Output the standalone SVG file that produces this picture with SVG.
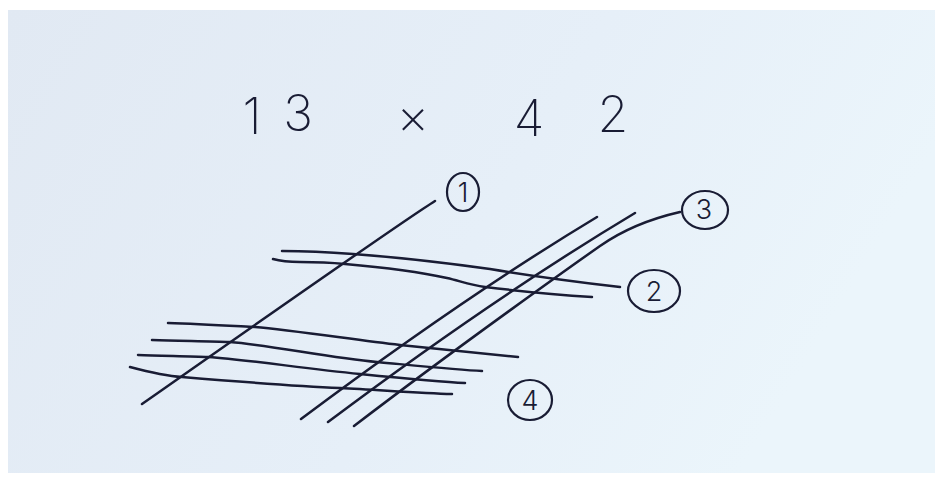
<svg xmlns="http://www.w3.org/2000/svg" width="935" height="487" viewBox="0 0 935 487">
  <defs>
    <linearGradient id="paper" x1="0" y1="0" x2="1" y2="0.3">
      <stop offset="0" stop-color="#e1e9f3"/>
      <stop offset="0.6" stop-color="#e6eff8"/>
      <stop offset="1" stop-color="#ebf5fb"/>
    </linearGradient>
    <style>
      .ink { fill: none; stroke: #191c34; stroke-width: 2.5; stroke-linecap: round; stroke-linejoin: round; }
      .ring { fill: none; stroke: #191c34; stroke-width: 2.2; }
      .title { font-family: Inter, "Open Sans", "DejaVu Sans", sans-serif; font-weight: 200; font-size: 50px; fill: #191c34; text-anchor: middle; }
      .num { font-family: Inter, "Open Sans", "DejaVu Sans", sans-serif; font-weight: 300; font-size: 27px; fill: #191c34; text-anchor: middle; }
    </style>
  </defs>

  <rect x="0" y="0" width="935" height="487" fill="#ffffff"/>
  <rect x="8" y="10" width="927" height="463" fill="url(#paper)"/>

  <g id="title">
    <text class="title" x="252" y="134">1</text>
    <text class="title" x="298" y="131">3</text>
    <text class="title" x="413" y="134">×</text>
    <text class="title" x="529" y="136">4</text>
    <text class="title" x="613" y="132">2</text>
  </g>

  <g id="connectors">
    <g id="lines-1">
      <path class="ink" d="M435,201 Q400,223 142,404"/>
    </g>
    <g id="lines-2">
      <path class="ink" d="M282,251 C310,251 340,253 353,254 C380,256 440,262 490,269 C520,274 560,280 620,287"/>
      <path class="ink" d="M273,259 C280,261 290,262 300,262 C320,262 335,263 345,264 C380,267 420,272 447,278 C460,281 470,285 485,287 C510,290 560,295 592,297"/>
    </g>
    <g id="lines-3">
      <path class="ink" d="M597,217 Q464,297 301,419"/>
      <path class="ink" d="M635,213 Q493,298 328,422"/>
      <path class="ink" d="M680,212 C645,220 620,232 600,246 S460,345 354,426"/>
    </g>
    <g id="lines-4">
      <path class="ink" d="M168,323 C200,324 235,326 255,327 C290,330 350,339 400,345 C440,349 480,353 518,357"/>
      <path class="ink" d="M152,340 C180,341 210,341 230,342 C270,345 330,358 377,362 C420,366 460,370 482,371"/>
      <path class="ink" d="M138,355 C160,356 190,356 208,357 C250,360 300,368 360,374 C400,378 440,382 465,383"/>
      <path class="ink" d="M130,367 C145,371 165,376 182,377 C230,381 290,386 340,388 C380,390 420,393 452,394"/>
    </g>
  </g>

  <g id="label-1">
    <ellipse class="ring" cx="463" cy="192" rx="16" ry="19"/>
    <text class="num" x="463" y="202">1</text>
  </g>
  <g id="label-2">
    <ellipse class="ring" cx="654" cy="291" rx="26" ry="21"/>
    <text class="num" x="654" y="301">2</text>
  </g>
  <g id="label-3">
    <ellipse class="ring" cx="705" cy="210" rx="23" ry="19"/>
    <text class="num" x="704" y="219">3</text>
  </g>
  <g id="label-4">
    <ellipse class="ring" cx="530" cy="400" rx="22" ry="20"/>
    <text class="num" x="530" y="410">4</text>
  </g>
</svg>
